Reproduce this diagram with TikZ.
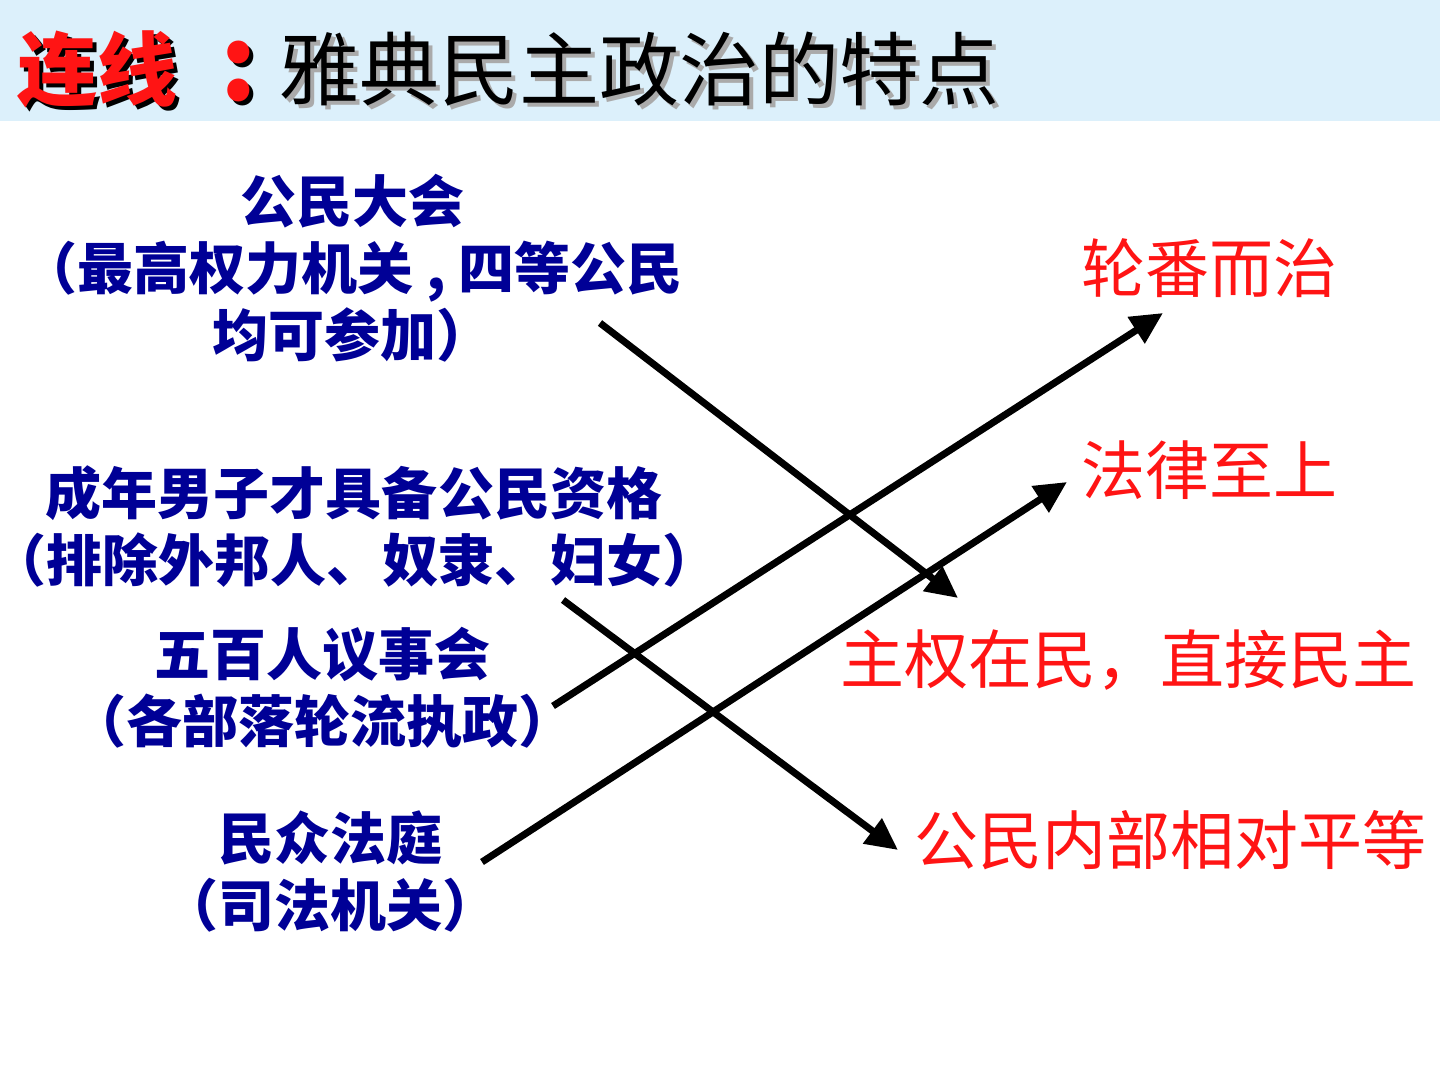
\documentclass[tikz,border=0pt]{standalone}
\usepackage{fontspec}
\setmainfont{Noto Sans CJK SC}
\usetikzlibrary{arrows.meta}
\definecolor{bandblue}{RGB}{220,240,251}
\definecolor{navy}{RGB}{0,0,150}
\definecolor{brightred}{RGB}{255,20,20}
\definecolor{shadowgray}{RGB}{170,170,170}

\begin{document}
\begin{tikzpicture}[x=0.5pt,y=-0.5pt]
        \tikzstyle{every node}+=[inner sep=0pt]
        \tikzstyle{titletext}=[anchor=west,font=\fontsize{40}{48}\selectfont]
        \tikzstyle{institution}=[text=navy,align=center,font=\bfseries\fontsize{28}{33.5}\selectfont]
        \tikzstyle{feature}=[text=brightred,font=\fontsize{32}{38}\selectfont]
        \tikzstyle{link}=[line width=3.5pt,-{Triangle[length=16pt,width=15pt]}]
        \useasboundingbox (0,0) rectangle (1440,1080);
        \fill [bandblue] (0,0) rectangle (1440,121);
        % title with shadow
        \node [titletext,text=black,font=\bfseries\fontsize{40}{48}\selectfont] (lianxianshadow) at (21,73) {连线};
        \node [titletext,text=brightred,font=\bfseries\fontsize{40}{48}\selectfont] (lianxian) at (17,69) {连线};
        \node [titletext,text=black,font=\bfseries\fontsize{52}{60}\selectfont] (colonshadow) at (224,75) {:};
        \node [titletext,text=brightred,font=\bfseries\fontsize{52}{60}\selectfont] (colon) at (220,71) {:};
        \node [titletext,text=shadowgray] (titleshadow) at (283,73) {雅典民主政治的特点};
        \node [titletext,text=black] (title) at (279,69) {雅典民主政治的特点};
        % left column
        \node [institution] (dahui) at (352,268) {公民大会\\（最高权力机关 , 四等公民\\均可参加）};
        \node [institution] (zige) at (354,527) {成年男子才具备公民资格\\（排除外邦人、奴隶、妇女）};
        \node [institution] (yishi) at (322,688) {五百人议事会\\（各部落轮流执政）};
        \node [institution] (fating) at (330,871) {民众法庭\\（司法机关）};
        % right column
        \node [feature] (lunfan) at (1209,268) {轮番而治};
        \node [feature] (falv) at (1209,470) {法律至上};
        \node [feature] (zhuquan) at (1128,660) {主权在民，直接民主};
        \node [feature] (pingdeng) at (1170,840) {公民内部相对平等};
        % arrow ends
        \coordinate (dahui-out) at (600,323);
        \coordinate (zhuquan-in) at (958,598);
        \coordinate (zige-out) at (563,600);
        \coordinate (pingdeng-in) at (898,850);
        \coordinate (yishi-out) at (553,706);
        \coordinate (lunfan-in) at (1163,313);
        \coordinate (fating-out) at (482,862);
        \coordinate (falv-in) at (1067,482);
        \draw [link] (dahui-out) -- (zhuquan-in);
        \draw [link] (zige-out) -- (pingdeng-in);
        \draw [link] (yishi-out) -- (lunfan-in);
        \draw [link] (fating-out) -- (falv-in);
\end{tikzpicture}
\end{document}
